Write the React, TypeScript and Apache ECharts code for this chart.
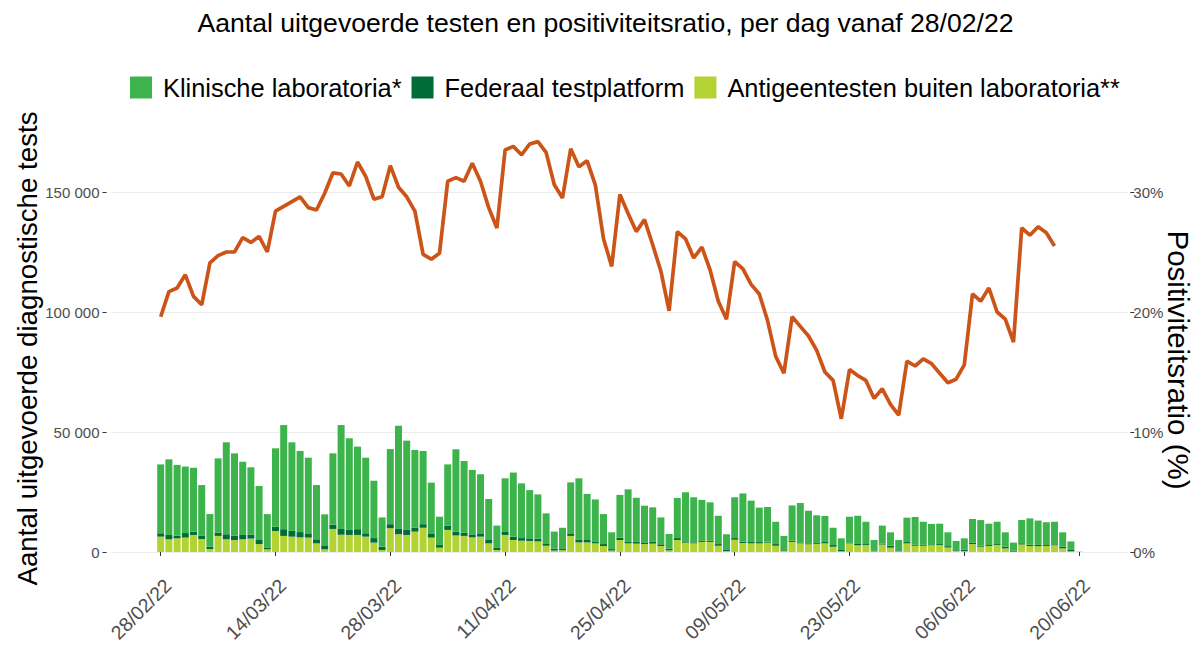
import React, { useEffect, useRef } from "react";
import * as echarts from "echarts";

// ---- data ----
const FIRST_DAY_UTC = Date.UTC(2022, 1, 28); // 28/02/22 = day 0
const DAY_MIN = -6;
const DAY_MAX = 118;
const LABEL_STEP = 14;
const LAST_LABEL_DAY = 112;

const klinische = [
  28700, 31500, 29500, 27700, 26600, 21000, 13550, 30900, 38300, 34300,
  30500, 28000, 22500, 13900, 32650, 43400, 36900, 33800, 31800, 22600,
  13200, 29700, 43300, 38200, 34400, 31500, 23900, 12200, 31300, 43000,
  37200, 32300, 30500, 21400, 11800, 25600, 34400, 29800, 26850, 24900,
  17100, 9100, 22350, 26700, 22800, 20100, 18500, 12500, 7100, 8600,
  21500, 25450, 19200, 17500, 12500, 7000, 17800, 21700, 18400, 15300,
  14400, 11200, 6100, 16700, 20450, 18800, 16950, 15950, 11800, 6300,
  17000, 20100, 17250, 14350, 14450, 9300, 5600, 14650, 16400, 13600,
  11600, 10850, 7200, 4850, 10700, 11750, 9300, 4550, 7500, 5600,
  4300, 10150, 11600, 9600, 8500, 8500, 5750, 3500, 4800, 9900,
  10700, 8900, 9300, 6000, 3350, 9650, 10950, 10150, 9500, 9400,
  6000, 3550, 100,
];

const federaal = [
  1400, 1800, 1100, 1900, 1400, 1500, 1000, 1400, 2100, 1800,
  1800, 1700, 1700, 800, 1800, 2800, 2400, 2200, 1500, 1700,
  1400, 1800, 2400, 2100, 2400, 1400, 1900, 1400, 1700, 2200,
  2100, 1700, 1500, 1500, 1100, 1700, 1500, 1400, 1250, 1100,
  1400, 1100, 1250, 1400, 1100, 1100, 1100, 1000, 800, 700,
  800, 1250, 1000, 800, 800, 600, 1000, 800, 700, 700,
  700, 700, 700, 800, 550, 400, 550, 550, 700, 700,
  700, 550, 550, 550, 400, 700, 550, 550, 400, 400,
  400, 550, 700, 550, 400, 550, 400, 150, 400, 800,
  400, 550, 400, 400, 400, 400, 550, 550, 500, 550,
  400, 400, 400, 700, 400, 550, 550, 550, 400, 400,
  700, 550, 0,
];

const antigeen = [
  6400, 5300, 5700, 6000, 7100, 5400, 1250, 6700, 5300, 5000,
  5300, 5600, 3300, 1100, 8750, 6700, 6400, 6100, 6000, 3600,
  1100, 9600, 7200, 7100, 7100, 6400, 3900, 800, 9900, 7400,
  7100, 8500, 10100, 6000, 1800, 9200, 6900, 6700, 6100, 6400,
  3600, 800, 7100, 5000, 4700, 4600, 4400, 2600, 600, 800,
  6700, 4000, 4000, 3600, 2500, 600, 5000, 3600, 3500, 3300,
  3500, 2500, 700, 5000, 3900, 3600, 4200, 4200, 2600, 400,
  5100, 3750, 3600, 3600, 3900, 2600, 550, 4200, 3600, 3200,
  3300, 3600, 2200, 300, 3600, 2800, 2900, 300, 3100, 1800,
  300, 3600, 2600, 2600, 2800, 2900, 1900, 550, 400, 3300,
  2200, 2500, 2900, 1500, 150, 3100, 2500, 2400, 2500, 2800,
  1500, 300, 50,
];

const positiviteit = [
  19.6, 21.7, 22.0, 23.1, 21.3, 20.6, 24.1, 24.7, 25.0, 25.0,
  26.2, 25.8, 26.3, 25.0, 28.4, 28.8, 29.2, 29.6, 28.7, 28.5,
  29.9, 31.6, 31.5, 30.5, 32.5, 31.3, 29.4, 29.6, 32.2, 30.4,
  29.6, 28.4, 24.8, 24.4, 24.9, 30.9, 31.2, 30.9, 32.4, 30.9,
  28.7, 27.0, 33.5, 33.8, 33.1, 34.0, 34.2, 33.3, 30.6, 29.5,
  33.6, 32.1, 32.6, 30.6, 26.1, 23.8, 29.8, 28.2, 26.7, 27.7,
  25.6, 23.4, 20.1, 26.7, 26.1, 24.5, 25.4, 23.5, 20.9, 19.4,
  24.2, 23.6, 22.3, 21.5, 19.3, 16.3, 14.9, 19.6, 18.8, 18.0,
  16.8, 15.0, 14.3, 11.1, 15.2, 14.7, 14.3, 12.8, 13.6, 12.3,
  11.4, 15.9, 15.5, 16.1, 15.7, 14.9, 14.1, 14.4, 15.6, 21.5,
  20.9, 22.0, 20.0, 19.4, 17.5, 27.0, 26.4, 27.1, 26.6, 25.5,
];

const leftTicks = [0, 50000, 100000, 150000];
const rightTicks = [0, 10, 20, 30];

const TITLE = "Aantal uitgevoerde testen en positiviteitsratio, per dag vanaf 28/02/22";
const NAME_KLIN = "Klinische laboratoria*";
const NAME_FED = "Federaal testplatform";
const NAME_ANT = "Antigeentesten buiten laboratoria**";
const LEFT_NAME = "Aantal uitgevoerde diagnostische tests";
const RIGHT_NAME = "Positiviteitsratio (%)";

const COL_KLIN = "#3cb44b";
const COL_FED = "#006d38";
const COL_ANT = "#b3d335";
const COL_LINE = "#cc5418";

const pad2 = (n: number) => (n < 10 ? "0" + n : String(n));
const dayLabel = (day: number) => {
  const d = new Date(FIRST_DAY_UTC + day * 86400000);
  return pad2(d.getUTCDate()) + "/" + pad2(d.getUTCMonth() + 1) + "/" + pad2(d.getUTCFullYear() % 100);
};

const days: number[] = [];
for (let d = DAY_MIN; d <= DAY_MAX; d++) days.push(d);
const categories = days.map(dayLabel);
const pick = (arr: number[]) => days.map((d) => (d >= 0 && d < arr.length ? arr[d] : null));

const isLabelDay = (index: number) => {
  const d = index + DAY_MIN;
  return d >= 0 && d <= LAST_LABEL_DAY && d % LABEL_STEP === 0;
};

const fmtThousands = (v: number) => String(v).replace(/\B(?=(\d{3})+(?!\d))/g, " ");

export default function App() {
  const ref = useRef<HTMLDivElement>(null);
  useEffect(() => {
    if (!ref.current) return;
    const chart = echarts.init(ref.current, undefined, { renderer: "svg" });
    const font = "'Liberation Sans', Arial, sans-serif";
    chart.setOption({
      animation: false,
      backgroundColor: "#ffffff",
      textStyle: { fontFamily: font },
      title: {
        text: TITLE,
        left: 605.5,
        top: 9,
        padding: 0,
        textAlign: "center",
        textStyle: { fontSize: 26.6, fontWeight: "normal", color: "#000", fontFamily: font },
      },
      legend: {
        data: [NAME_KLIN, NAME_FED, NAME_ANT],
        top: 75,
        left: 130,
        padding: 0,
        itemWidth: 22,
        itemHeight: 22,
        itemGap: 10,
        icon: "rect",
        textStyle: { fontSize: 25.4, color: "#000", fontFamily: font, padding: [0, 0, 0, 6] },
      },
      grid: {
        left: 111.5,
        right: 67.7,
        top: 132,
        bottom: 95,
        containLabel: false,
        outerBoundsMode: "none",
      },
      xAxis: {
        type: "category",
        data: categories,
        boundaryGap: false,
        offset: 21,
        axisLine: { show: false },
        axisTick: { show: true, interval: isLabelDay, length: 4, lineStyle: { color: "#333" } },
        axisLabel: {
          interval: isLabelDay,
          rotate: 45,
          fontSize: 19.5,
          color: "#4d4d4d",
          margin: 2,
          verticalAlign: "top",
          fontFamily: font,
        },
        splitLine: { show: false },
      },
      yAxis: [
        {
          type: "value",
          position: "left",
          min: 0,
          max: 175000,
          interval: 25000,
          offset: 5,
          name: LEFT_NAME,
          nameLocation: "middle",
          nameGap: 65,
          nameMoveOverlap: false,
          nameTextStyle: { fontSize: 27.7, color: "#000", fontFamily: font, padding: [0, 13, 0, 0] },
          axisLine: { show: false },
          axisTick: { show: true, length: 4, customValues: leftTicks, lineStyle: { color: "#333" } },
          axisLabel: {
            customValues: leftTicks,
            formatter: (v: number) => fmtThousands(v),
            fontSize: 15,
            color: "#4d4d4d",
            margin: 7,
            fontFamily: font,
          },
          splitLine: { show: true, lineStyle: { color: "#ebebeb", width: 1 } },
        },
        {
          type: "value",
          position: "right",
          min: 0,
          max: 35,
          interval: 5,
          offset: 2,
          name: RIGHT_NAME,
          nameLocation: "middle",
          nameGap: 33,
          nameMoveOverlap: false,
          nameRotate: -90,
          nameTextStyle: { fontSize: 29.5, color: "#000", fontFamily: font, padding: [0, 0, 0, 36] },
          axisLine: { show: false },
          axisTick: { show: true, length: 4, customValues: rightTicks, lineStyle: { color: "#333" } },
          axisLabel: {
            customValues: rightTicks,
            formatter: (v: number) => v + "%",
            fontSize: 15,
            color: "#4d4d4d",
            margin: 3,
            fontFamily: font,
          },
          splitLine: { show: false },
        },
      ],
      series: [
        {
          name: NAME_ANT,
          type: "bar",
          stack: "tests",
          data: pick(antigeen),
          barWidth: 7,
          itemStyle: { color: COL_ANT },
        },
        {
          name: NAME_FED,
          type: "bar",
          stack: "tests",
          data: pick(federaal),
          barWidth: 7,
          itemStyle: { color: COL_FED },
        },
        {
          name: NAME_KLIN,
          type: "bar",
          stack: "tests",
          data: pick(klinische),
          barWidth: 7,
          itemStyle: { color: COL_KLIN },
        },
        {
          name: "Positiviteitsratio",
          type: "line",
          yAxisIndex: 1,
          data: pick(positiviteit),
          symbol: "none",
          connectNulls: false,
          lineStyle: { color: COL_LINE, width: 3.7 },
          itemStyle: { color: COL_LINE },
          z: 5,
        },
      ],
    });
    return () => chart.dispose();
  }, []);
  return (
    <div
      ref={ref}
      style={{ position: "fixed", left: 0, top: 0, width: 1196, height: 647, background: "#fff" }}
    />
  );
}
